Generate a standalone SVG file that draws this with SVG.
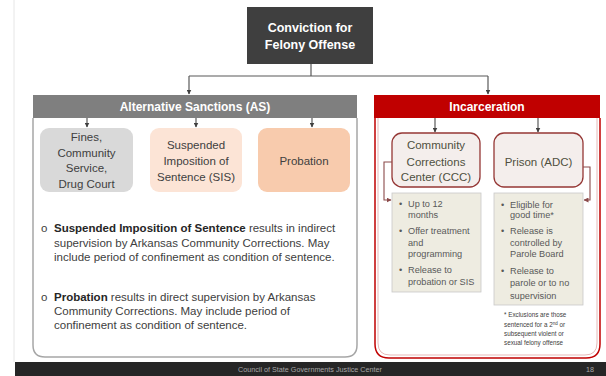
<svg xmlns="http://www.w3.org/2000/svg" width="606" height="376" viewBox="0 0 606 376">
<style>
text{font-family:"Liberation Sans",Arial,sans-serif}
.wb{fill:#fff;font-weight:bold;text-anchor:middle}
.lbl{fill:#404040;font-size:11.5px;text-anchor:middle}
.ccc{fill:#4f5040;font-size:11.5px;text-anchor:middle}
.note{fill:#404040;font-size:11.5px}
.note tspan.b{font-weight:bold;fill:#262626}
.bul{fill:#595959;font-size:9.2px}
.fn{fill:#404040;font-size:6.3px}
.con{fill:none;stroke:#595959;stroke-width:1.2}
.con2{fill:none;stroke:#8b4a4a;stroke-width:1.1}
</style>
<defs>
<marker id="ah" markerWidth="5" markerHeight="5" refX="4.5" refY="2.5" orient="auto" markerUnits="userSpaceOnUse"><path d="M0,0 L5,2.5 L0,5 z" fill="#404040"/></marker>
<marker id="ah2" markerWidth="5" markerHeight="5" refX="4.5" refY="2.5" orient="auto" markerUnits="userSpaceOnUse"><path d="M0,0 L5,2.5 L0,5 z" fill="#8b4a4a"/></marker>
</defs>
<rect width="606" height="376" fill="#fff"/>
<line x1="14" y1="0" x2="14" y2="362" stroke="#e6e6e6" stroke-width="1"/>

<g id="conviction">
<rect x="247" y="7" width="126" height="57" fill="#3f3f3f"/>
<text class="wb" x="310" y="32" font-size="12.5">Conviction for</text>
<text class="wb" x="310" y="49" font-size="12.5">Felony Offense</text>
</g>

<g id="as-panel">
<path d="M33,118 V345 Q33,357 45,357 H345 Q357,357 357,345 V118" fill="#fff" stroke="#a6a6a6" stroke-width="1.5"/>
</g>
<g id="as-banner">
<rect x="33" y="95" width="324" height="23" fill="#7f7f7f"/>
<text class="wb" x="195" y="111" font-size="12">Alternative Sanctions (AS)</text>
</g>

<g id="inc-panel">
<path d="M375,118 V344 Q375,358 389,358 H586 Q600,358 600,344 V118" fill="#fff" stroke="#c00000" stroke-width="1.5"/>
<path d="M378,118 V343 Q378,355 390,355 H585 Q597,355 597,343 V118" fill="none" stroke="#e6b9b8" stroke-width="1"/>
</g>
<g id="inc-banner">
<rect x="374" y="95" width="226" height="23" fill="#c00000"/>
<text class="wb" x="487" y="111" font-size="12">Incarceration</text>
</g>

<g id="fines">
<rect x="40" y="128" width="93" height="64" rx="9" fill="#d9d9d9"/>
<text class="lbl" x="86.5" y="141">Fines,</text>
<text class="lbl" x="86.5" y="157">Community</text>
<text class="lbl" x="86.5" y="172">Service,</text>
<text class="lbl" x="86.5" y="188">Drug Court</text>
</g>
<g id="sis">
<rect x="150" y="128" width="92" height="64" rx="9" fill="#fce4d6"/>
<text class="lbl" x="196" y="149">Suspended</text>
<text class="lbl" x="196" y="165">Imposition of</text>
<text class="lbl" x="196" y="181">Sentence (SIS)</text>
</g>
<g id="probation">
<rect x="258" y="128" width="92" height="64" rx="9" fill="#f8cbad"/>
<text class="lbl" x="304" y="165">Probation</text>
</g>

<g id="as-notes">
<text class="note" x="41" y="232">o</text>
<text class="note" x="54" y="232"><tspan class="b">Suspended Imposition of Sentence</tspan> results in indirect</text>
<text class="note" x="54" y="247">supervision by Arkansas Community Corrections. May</text>
<text class="note" x="54" y="261">include period of confinement as condition of sentence.</text>
<text class="note" x="41" y="301">o</text>
<text class="note" x="54" y="301"><tspan class="b">Probation</tspan> results in direct supervision by Arkansas</text>
<text class="note" x="54" y="315">Community Corrections. May include period of</text>
<text class="note" x="54" y="329">confinement as condition of sentence.</text>
</g>

<g id="ccc">
<rect x="392" y="133" width="88" height="54" rx="10" fill="#f4eeec" stroke="#953735" stroke-width="1.3"/>
<text class="ccc" x="436" y="149">Community</text>
<text class="ccc" x="436" y="166">Corrections</text>
<text class="ccc" x="436" y="181">Center (CCC)</text>
</g>
<g id="prison">
<rect x="494" y="133" width="89" height="54" rx="10" fill="#f4eeec" stroke="#953735" stroke-width="1.3"/>
<text class="ccc" x="538.5" y="166">Prison (ADC)</text>
</g>

<g id="ccc-details">
<rect x="392" y="193" width="89" height="99" fill="#eeece1" stroke="#c9c9c9" stroke-width="0.8"/>
<text class="bul" x="399" y="207">•</text>
<text class="bul" x="408" y="207">Up to 12</text>
<text class="bul" x="408" y="218">months</text>
<text class="bul" x="399" y="234">•</text>
<text class="bul" x="408" y="234">Offer treatment</text>
<text class="bul" x="408" y="246">and</text>
<text class="bul" x="408" y="257">programming</text>
<text class="bul" x="399" y="273">•</text>
<text class="bul" x="408" y="273">Release to</text>
<text class="bul" x="408" y="285">probation or SIS</text>
</g>
<g id="prison-details">
<rect x="494" y="193" width="89" height="112" fill="#eeece1" stroke="#c9c9c9" stroke-width="0.8"/>
<text class="bul" x="501" y="208">•</text>
<text class="bul" x="510" y="208">Eligible for</text>
<text class="bul" x="510" y="218">good time*</text>
<text class="bul" x="501" y="234">•</text>
<text class="bul" x="510" y="234">Release is</text>
<text class="bul" x="510" y="246">controlled by</text>
<text class="bul" x="510" y="257">Parole Board</text>
<text class="bul" x="501" y="274">•</text>
<text class="bul" x="510" y="274">Release to</text>
<text class="bul" x="510" y="286">parole or to no</text>
<text class="bul" x="510" y="299">supervision</text>
</g>
<g id="footnote">
<text class="fn" x="504" y="317">* Exclusions are those</text>
<text class="fn" x="504" y="327">sentenced for a 2<tspan font-size="4.5" baseline-shift="super">nd</tspan> or</text>
<text class="fn" x="504" y="336">subsequent violent or</text>
<text class="fn" x="504" y="345">sexual felony offense</text>
</g>

<g id="connectors">
<path class="con" d="M311,64 V76"/>
<path class="con" d="M189,76 H488"/>
<path class="con" d="M189,76 V94" marker-end="url(#ah)"/>
<path class="con" d="M488,76 V94" marker-end="url(#ah)"/>
<path class="con" d="M87,118 V127" marker-end="url(#ah)"/>
<path class="con" d="M196,118 V127" marker-end="url(#ah)"/>
<path class="con" d="M312,118 V127" marker-end="url(#ah)"/>
<path class="con" d="M435,118 V132" marker-end="url(#ah)"/>
<path class="con" d="M538,118 V132" marker-end="url(#ah)"/>
<path class="con2" d="M392,162 H384 V200 H391" marker-end="url(#ah2)"/>
<path class="con2" d="M583,167 H590 V200 H584" marker-end="url(#ah2)"/>
</g>

<g id="footer">
<rect x="15" y="362" width="591" height="14" fill="#262626"/>
<text x="310" y="371.5" font-size="7.2" fill="#a6a6a6" text-anchor="middle">Council of State Governments Justice Center</text>
<text x="590" y="371.5" font-size="7.2" fill="#a6a6a6" text-anchor="middle">18</text>
</g>
</svg>
